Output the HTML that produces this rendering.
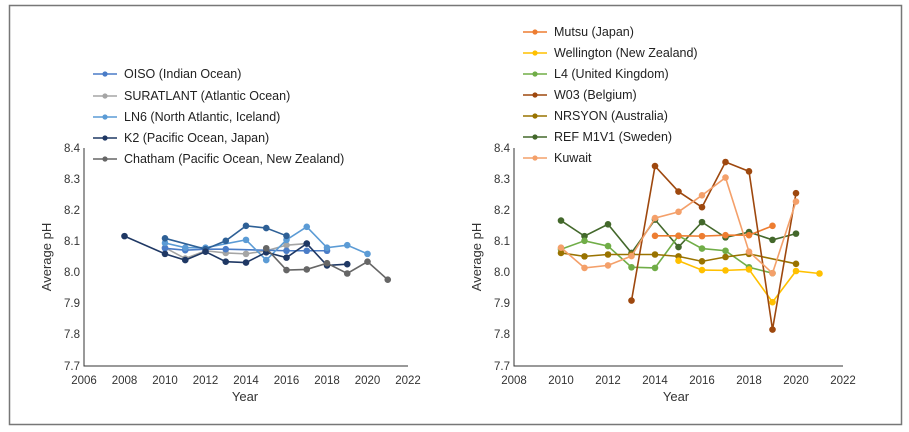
<!DOCTYPE html><html><head><style>body{margin:0;background:#fff}svg{display:block;font-family:"Liberation Sans",sans-serif}</style></head><body>
<svg id="s" width="909" height="432" xmlns="http://www.w3.org/2000/svg">
<rect x="9.5" y="5.5" width="892" height="419" fill="none" stroke="#777" stroke-width="1.5"/>
<g stroke="#333" stroke-width="1" fill="none">
<path d="M84 148V366H408"/><path d="M514 148V366H843"/>
</g>
<g font-size="11.5" fill="#333" text-anchor="end">
<text x="80" y="152">8.4</text><text x="80" y="183">8.3</text><text x="80" y="214">8.2</text><text x="80" y="245">8.1</text><text x="80" y="276">8.0</text><text x="80" y="307">7.9</text><text x="80" y="338">7.8</text><text x="80" y="370">7.7</text>
<text x="510" y="152">8.4</text><text x="510" y="183">8.3</text><text x="510" y="214">8.2</text><text x="510" y="245">8.1</text><text x="510" y="276">8.0</text><text x="510" y="307">7.9</text><text x="510" y="338">7.8</text><text x="510" y="370">7.7</text>
</g>
<g font-size="11.5" fill="#333" text-anchor="middle">
<text x="84" y="384">2006</text><text x="124.5" y="384">2008</text><text x="165" y="384">2010</text><text x="205.5" y="384">2012</text><text x="246" y="384">2014</text><text x="286.5" y="384">2016</text><text x="327" y="384">2018</text><text x="367.5" y="384">2020</text><text x="408" y="384">2022</text>
<text x="514" y="384">2008</text><text x="561" y="384">2010</text><text x="608" y="384">2012</text><text x="655" y="384">2014</text><text x="702" y="384">2016</text><text x="749" y="384">2018</text><text x="796" y="384">2020</text><text x="843" y="384">2022</text>
<text x="245" y="401" font-size="13">Year</text><text x="676" y="401" font-size="13">Year</text>
<text transform="translate(51,257) rotate(-90)" font-size="13">Average pH</text>
<text transform="translate(481,257) rotate(-90)" font-size="13">Average pH</text>
</g>
<g font-size="12.5" fill="#222">
<text x="124" y="78">OISO (Indian Ocean)</text><text x="124" y="100">SURATLANT (Atlantic Ocean)</text><text x="124" y="121">LN6 (North Atlantic, Iceland)</text><text x="124" y="142">K2 (Pacific Ocean, Japan)</text><text x="124" y="163">Chatham (Pacific Ocean, New Zealand)</text>
<text x="554" y="36">Mutsu (Japan)</text><text x="554" y="57">Wellington (New Zealand)</text><text x="554" y="78">L4 (United Kingdom)</text><text x="554" y="99">W03 (Belgium)</text><text x="554" y="120">NRSYON (Australia)</text><text x="554" y="141">REF M1V1 (Sweden)</text><text x="554" y="162">Kuwait</text>
</g>
<g id="d"></g>
</svg>
<script>
var g=document.getElementById('d'),h='';
function Y(v){return 148+(8.4-v)*311.4}
function ser(c,pts,x0,y0,px,ly){var p=pts.map(function(q){return [x0+(q[0]-y0)*px,Y(q[1])]});
h+='<polyline fill="none" stroke="'+c+'" stroke-width="1.6" points="'+p.map(function(a){return a.join(',')}).join(' ')+'"/>';
p.forEach(function(a){h+='<circle cx="'+a[0]+'" cy="'+a[1]+'" r="3.3" fill="'+c+'"/>'});
var lx=x0==84?93:523;h+='<line x1="'+lx+'" x2="'+(lx+24)+'" y1="'+ly+'" y2="'+ly+'" stroke="'+c+'" stroke-width="1.6"/><circle cx="'+(lx+12)+'" cy="'+ly+'" r="2.6" fill="'+c+'"/>';}
function L(c,p,ly){ser(c,p,84,2006,20.25,ly)}
function R(c,p,ly){ser(c,p,514,2008,23.5,ly)}
L('#a5a5a5',[[2010,8.08],[2011,8.045],[2012,8.07],[2013,8.063],[2014,8.06],[2015,8.07],[2016,8.088],[2017,8.093]],96);
L('#4a7cc7',[[2010,8.078],[2011,8.072],[2012,8.075],[2013,8.075],[2016,8.07],[2017,8.07],[2018,8.07]],74);
L('#5b9bd5',[[2010,8.095],[2011,8.08],[2012,8.08],[2014,8.105],[2015,8.04],[2016,8.105],[2017,8.147],[2018,8.08],[2019,8.088],[2020,8.06]],117);
L('#2e6096',[[2010,8.11],[2012,8.075],[2013,8.102],[2014,8.15],[2015,8.143],[2016,8.118]],-50);
L('#1f3864',[[2008,8.117],[2010,8.06],[2011,8.04],[2012,8.067],[2013,8.035],[2014,8.032],[2015,8.065],[2016,8.048],[2017,8.093],[2018,8.023],[2019,8.027]],138);
L('#666666',[[2015,8.078],[2016,8.008],[2017,8.01],[2018,8.03],[2019,7.997],[2020,8.035],[2021,7.977]],159);
R('#43682b',[[2010,8.167],[2011,8.117],[2012,8.155],[2013,8.063],[2014,8.17],[2015,8.082],[2016,8.162],[2017,8.113],[2018,8.13],[2019,8.105],[2020,8.125]],137);
R('#70ad47',[[2010,8.075],[2011,8.102],[2012,8.085],[2013,8.017],[2014,8.015],[2015,8.118],[2016,8.077],[2017,8.07],[2018,8.017],[2019,7.998]],74);
R('#997300',[[2010,8.063],[2011,8.052],[2012,8.058],[2013,8.058],[2014,8.058],[2015,8.052],[2016,8.036],[2017,8.05],[2018,8.06],[2020,8.028]],116);
R('#ffc000',[[2015,8.038],[2016,8.008],[2017,8.007],[2018,8.01],[2019,7.905],[2020,8.005],[2021,7.997]],53);
R('#ed7d31',[[2014,8.118],[2015,8.118],[2016,8.117],[2017,8.12],[2018,8.12],[2019,8.15]],32);
R('#9e480e',[[2013,7.91],[2014,8.342],[2015,8.26],[2016,8.21],[2017,8.355],[2018,8.325],[2019,7.817],[2020,8.255]],95);
R('#f4a06a',[[2010,8.08],[2011,8.015],[2012,8.023],[2013,8.053],[2014,8.175],[2015,8.195],[2016,8.248],[2017,8.305],[2018,8.067],[2019,7.998],[2020,8.228]],158);
g.innerHTML=h;
</script>
</body></html>
